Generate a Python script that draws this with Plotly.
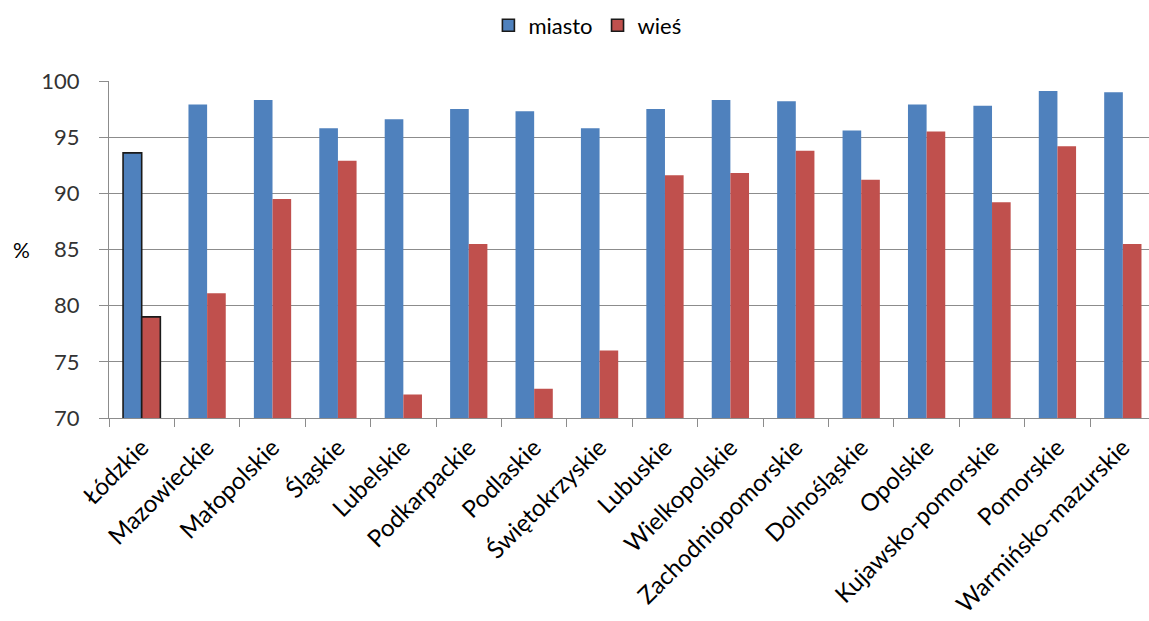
import plotly.graph_objects as go

regions = ["Łódzkie", "Mazowieckie", "Małopolskie", "Śląskie", "Lubelskie",
           "Podkarpackie", "Podlaskie", "Świętokrzyskie", "Lubuskie",
           "Wielkopolskie", "Zachodniopomorskie", "Dolnośląskie", "Opolskie",
           "Kujawsko-pomorskie", "Pomorskie", "Warmińsko-mazurskie"]
miasto = [93.6, 97.9, 98.3, 95.8, 96.6, 97.5, 97.3, 95.8, 97.5, 98.3,
          98.2, 95.6, 97.9, 97.8, 99.1, 99.0]
wies = [79.0, 81.1, 89.5, 92.9, 72.1, 85.5, 72.6, 76.0, 91.6, 91.8,
        93.8, 91.2, 95.5, 89.2, 94.2, 85.5]
y_ticks = [70, 75, 80, 85, 90, 95, 100]

FONT = "Lato"
GRID = "#8c8c8c"

# first category is highlighted with a dark outline
line_w = [1.6] + [0] * (len(regions) - 1)
line_c = ["#1a1a1a"] + ["rgba(0,0,0,0)"] * (len(regions) - 1)

fig = go.Figure()
fig.add_trace(go.Bar(name="miasto", x=regions, y=miasto,
                     marker=dict(color="#4F81BD", line=dict(width=line_w, color=line_c))))
fig.add_trace(go.Bar(name="wieś", x=regions, y=wies,
                     marker=dict(color="#C0504D", line=dict(width=line_w, color=line_c))))

fig.update_layout(
    width=1149, height=621,
    margin=dict(l=109, r=0, t=81, b=203, autoexpand=False),
    paper_bgcolor="white", plot_bgcolor="white",
    barmode="group", bargap=0.43, bargroupgap=0,
    font=dict(family=FONT, color="#000000"),
    legend=dict(orientation="h", x=0.46, xanchor="center", y=1.165, yanchor="middle",
                font=dict(size=22, family=FONT, color="#000000"),
                itemwidth=30, traceorder="normal"),
    showlegend=True,
)
fig.update_xaxes(
    type="category", range=[-0.5, 15.4],
    showline=True, linecolor=GRID, linewidth=1,
    ticks="outside", tickson="boundaries", ticklen=8, tickcolor=GRID,
    tickangle=-45, tickfont=dict(size=24, family=FONT, color="#000000"),
    ticklabelstandoff=5,
    showgrid=False,
)
fig.update_yaxes(
    range=[70, 100], tickvals=y_ticks,
    showline=True, linecolor=GRID, linewidth=1,
    ticks="outside", ticklen=9, tickcolor=GRID,
    ticklabelstandoff=15,
    showgrid=True, gridcolor=GRID, gridwidth=1,
    tickfont=dict(size=22, family=FONT, color="#333333"),
    zeroline=False,
)
fig.add_annotation(text="%", xref="paper", yref="paper", x=-0.094, y=0.5,
                   showarrow=False, font=dict(size=21, family=FONT, color="#000000"))

fig.write_html("out.html")
